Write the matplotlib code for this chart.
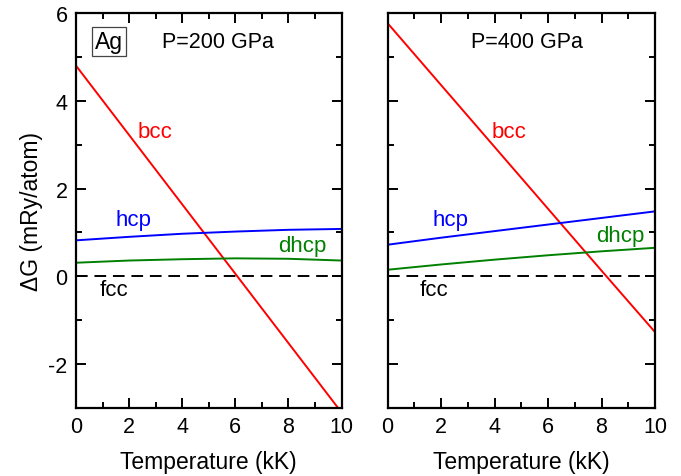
import matplotlib
matplotlib.use("Agg")
import matplotlib.pyplot as plt
import numpy as np
from matplotlib.ticker import MultipleLocator

plt.rcParams['font.family'] = ['Liberation Sans', 'DejaVu Sans']
plt.rcParams['axes.unicode_minus'] = False

T = [0, 2, 4, 6, 8, 10]

# P = 200 GPa
bcc_200 = [4.8, 3.22, 1.64, 0.06, -1.52, -3.1]
hcp_200 = [0.82, 0.9, 0.97, 1.02, 1.06, 1.08]
dhcp_200 = [0.31, 0.36, 0.39, 0.41, 0.40, 0.36]

# P = 400 GPa
bcc_400 = [5.77, 4.36, 2.95, 1.54, 0.13, -1.27]
hcp_400 = [0.72, 0.88, 1.03, 1.18, 1.33, 1.48]
dhcp_400 = [0.15, 0.27, 0.38, 0.48, 0.57, 0.65]

fcc = [0, 0, 0, 0, 0, 0]

fig = plt.figure(figsize=(6.81, 4.77), dpi=100)
W, H = 681, 477
ax1 = fig.add_axes([76/W, 1-409/H, (341.5-76)/W, (409-14)/H])
ax2 = fig.add_axes([387.5/W, 1-409/H, (655-387.5)/W, (409-14)/H])

panels = [
    (ax1, bcc_200, hcp_200, dhcp_200, "P=200 GPa",
     [(2.3, 3.3), (1.5, 1.3), (7.6, 0.7), (0.9, -0.3)], 5.35),
    (ax2, bcc_400, hcp_400, dhcp_400, "P=400 GPa",
     [(3.9, 3.3), (1.7, 1.3), (7.8, 0.93), (1.2, -0.3)], 5.2),
]

for ax, bcc, hcp, dhcp, title, lab, tx in panels:
    ax.plot(T, bcc, color='#ff0000', lw=1.4)
    ax.plot(T, hcp, color='#0000ff', lw=1.4)
    ax.plot(T, dhcp, color='#008000', lw=1.4)
    ax.plot(T, fcc, color='black', lw=1.4, dashes=(6, 3.5))
    ax.set_xlim(0, 10)
    ax.set_ylim(-3, 6)
    ax.xaxis.set_major_locator(MultipleLocator(2))
    ax.xaxis.set_minor_locator(MultipleLocator(1))
    ax.yaxis.set_major_locator(MultipleLocator(2))
    ax.yaxis.set_minor_locator(MultipleLocator(1))
    ax.tick_params(which='both', direction='in', top=True, right=True, width=1.4)
    ax.tick_params(which='major', length=7, labelsize=15.5, pad=6)
    ax.tick_params(which='minor', length=4)
    for s in ax.spines.values():
        s.set_linewidth(1.6)
    ax.set_xlabel('Temperature (kK)', fontsize=16.5, labelpad=9)
    names = ['bcc', 'hcp', 'dhcp', 'fcc']
    cols = ['#ff0000', '#0000ff', '#008000', 'black']
    for (x, y), n, c in zip(lab, names, cols):
        ax.text(x, y, n, color=c, fontsize=16, ha='left', va='center')
    ax.text(tx, 5.35, title, fontsize=15.5, ha='center', va='center')

ax2.tick_params(which='both', labelleft=False)
ax1.set_ylabel('ΔG (mRy/atom)', fontsize=16.5, labelpad=4)
ax1.text(1.25, 5.35, 'Ag', fontsize=16.5, ha='center', va='center',
         bbox=dict(boxstyle='square,pad=0.12', fc='white', ec='#444444', lw=0.9))

fig.savefig('out.png', dpi=100)
